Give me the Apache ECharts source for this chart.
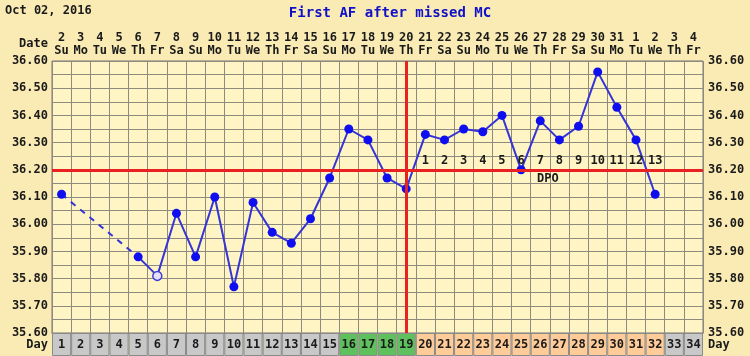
<!DOCTYPE html>
<html><head><meta charset="utf-8">
<script src="https://cdn.jsdelivr.net/npm/echarts@6/dist/echarts.min.js"></script>
<style>html,body{margin:0;padding:0;background:#FAEBB4}#c{width:750px;height:356px}</style>
</head><body><div id="c"></div>
<script>
// ---- data ----
const days = ['1','2','3','4','5','6','7','8','9','10','11','12','13','14','15','16','17','18','19','20','21','22','23','24','25','26','27','28','29','30','31','32','33','34'];
const dates = ['2','3','4','5','6','7','8','9','10','11','12','13','14','15','16','17','18','19','20','21','22','23','24','25','26','27','28','29','30','31','1','2','3','4'];
const weekdays = ['Su','Mo','Tu','We','Th','Fr','Sa','Su','Mo','Tu','We','Th','Fr','Sa','Su','Mo','Tu','We','Th','Fr','Sa','Su','Mo','Tu','We','Th','Fr','Sa','Su','Mo','Tu','We','Th','Fr'];
const temps = [36.11,null,null,null,35.88,35.81,36.04,35.88,36.10,35.77,36.08,35.97,35.93,36.02,36.17,36.35,36.31,36.17,36.13,36.33,36.31,36.35,36.34,36.40,36.20,36.38,36.31,36.36,36.56,36.43,36.31,36.11,null,null];
const openDays = ['6'];
const phases = ['n','n','n','n','n','n','n','n','n','n','n','n','n','n','n','f','f','f','f','l','l','l','l','l','l','l','l','l','l','l','l','l','n','n'];
const dpo = [null,null,null,null,null,null,null,null,null,null,null,null,null,null,null,null,null,null,null,'1','2','3','4','5','6','7','8','9','10','11','12','13',null,null];
const yTicks = ['35.60','35.70','35.80','35.90','36.00','36.10','36.20','36.30','36.40','36.50','36.60'];
const coverline = 36.20;
const ovulationDay = '19';
const chartDate = 'Oct 02, 2016';
const chartTitle = 'First AF after missed MC';

// ---- styles ----
const FONT = 'DejaVu Sans Mono';
const phaseColor = {n:'#C8C8C8', f:'#5EC15E', l:'#FFCC99'};
const lineColor = '#3535D6';
const dotColor = '#0E0EEE';
const red = '#E82222';
const gridColor = '#8E8A80';

const mainData = temps.map((t,i)=>{
  if (t==null) return null;
  if (openDays.includes(days[i])) return {value:t, symbolSize:9, itemStyle:{color:'#E6E0F4', borderColor:'#4040D8', borderWidth:1.5}};
  return t;
});
// dashed bridges across missing days
const bridgeSeries = [];
let last = -1;
temps.forEach((t,i)=>{
  if (t==null) return;
  if (last>=0 && i-last>1){
    const d = temps.map(()=>null); d[last]=temps[last]; d[i]=t;
    bridgeSeries.push({type:'line', data:d, connectNulls:true, symbol:'none', z:2,
      lineStyle:{color:lineColor, width:2, type:[6,6]}});
  }
  last = i;
});
const dpoY = coverline + 0.033;

const chart = echarts.init(document.getElementById('c'), null, {renderer:'canvas'});
const labelStyle = {fontFamily:FONT, fontWeight:'bold', fontSize:12, color:'#1A1A1A'};
chart.setOption({
  animation:false,
  backgroundColor:'#FAEBB4',
  textStyle:{fontFamily:FONT},
  grid:[
    {left:52, right:47, top:61, bottom:23, show:true, backgroundColor:'#FFF4C4', borderColor:'#777', borderWidth:1},
    {left:52, right:47, top:333, bottom:0, show:false}
  ],
  xAxis:[
    {gridIndex:0, type:'category', data:days, boundaryGap:true,
     axisLine:{show:true, lineStyle:{color:'#777'}}, axisTick:{show:false}, axisLabel:{show:false},
     splitLine:{show:true, interval:0, lineStyle:{color:gridColor, width:1}}},
    {gridIndex:0, type:'category', position:'top', data:dates, boundaryGap:true,
     axisLine:{show:false}, axisTick:{show:false}, splitLine:{show:false},
     axisLabel:{interval:0, margin:4, formatter:(v,i)=>'{n|'+v+'}\n{w|'+weekdays[i]+'}',
       rich:{n:{fontFamily:FONT, fontWeight:'bold', fontSize:12, lineHeight:13, color:'#1A1A1A'},
             w:{fontFamily:FONT, fontWeight:'bold', fontSize:12, lineHeight:13, color:'#1A1A1A'}}}},
    {gridIndex:1, type:'category', data:days, boundaryGap:true,
     axisLine:{show:false}, axisTick:{show:false}, axisLabel:{show:false}, splitLine:{show:false}}
  ],
  yAxis:[
    {gridIndex:0, type:'value', min:35.6, max:36.6, interval:0.1,
     axisLine:{show:false}, axisTick:{show:false},
     axisLabel:Object.assign({margin:4, formatter:(v)=>yTicks[Math.round((v-35.6)*10)]}, labelStyle),
     splitLine:{show:true, lineStyle:{color:gridColor, width:1}},
     minorTick:{show:false, splitNumber:2},
     minorSplitLine:{show:true, lineStyle:{color:gridColor, width:1}}},
    {gridIndex:0, type:'value', position:'right', min:35.6, max:36.6, interval:0.1,
     axisLine:{show:false}, axisTick:{show:false}, splitLine:{show:false},
     axisLabel:Object.assign({margin:5, formatter:(v)=>yTicks[Math.round((v-35.6)*10)]}, labelStyle)},
    {gridIndex:1, type:'value', min:0, max:1, show:false}
  ],
  series:[
    {type:'bar', xAxisIndex:2, yAxisIndex:2, barWidth:'100%', barCategoryGap:'0%',
     data:phases.map(p=>({value:1, itemStyle:{color:phaseColor[p], borderColor:'#8A8A8A', borderWidth:1}})),
     label:Object.assign({show:true, position:'inside', formatter:(p)=>days[p.dataIndex]}, labelStyle)},
    ...bridgeSeries,
    {type:'line', data:mainData, connectNulls:false, symbol:'circle', symbolSize:9, z:3,
     lineStyle:{color:lineColor, width:2}, itemStyle:{color:dotColor}},
    {type:'line', data:days.map(()=>null), z:5, symbol:'none',
     markLine:{silent:true, symbol:'none', label:{show:false}, animation:false,
       lineStyle:{color:red, width:3, type:'solid'},
       data:[{yAxis:coverline},{xAxis:ovulationDay}]}},
    {type:'scatter', z:6, symbol:'circle', symbolSize:0.5, itemStyle:{color:'#FFF4C4', opacity:1},
     data:dpo.map((d,i)=>d==null?[i,null]:[i,dpoY]),
     label:Object.assign({show:true, position:'inside', opacity:1, textBorderWidth:0, textShadowBlur:0,
       formatter:(p)=>dpo[p.dataIndex]||''}, labelStyle)}
  ],
  graphic:[
    {type:'text', left:5, top:5, style:{text:chartDate, font:'bold 12px "DejaVu Sans Mono"', fill:'#1A1A1A'}},
    {type:'text', x:390, y:13, style:{text:chartTitle, font:'bold 14px "DejaVu Sans Mono"', fill:'#1010C8', align:'center', verticalAlign:'middle'}},
    {type:'text', x:48, y:44, style:{text:'Date', font:'bold 12px "DejaVu Sans Mono"', fill:'#1A1A1A', align:'right', verticalAlign:'middle'}},
    {type:'text', x:48, y:345, style:{text:'Day', font:'bold 12px "DejaVu Sans Mono"', fill:'#1A1A1A', align:'right', verticalAlign:'middle'}},
    {type:'text', x:708, y:345, style:{text:'Day', font:'bold 12px "DejaVu Sans Mono"', fill:'#1A1A1A', align:'left', verticalAlign:'middle'}},
    {type:'text', x:537, y:179, z:10, style:{text:'DPO', font:'bold 12px "DejaVu Sans Mono"', fill:'#1A1A1A', align:'left', verticalAlign:'middle'}}
  ]
});
</script></body></html>
